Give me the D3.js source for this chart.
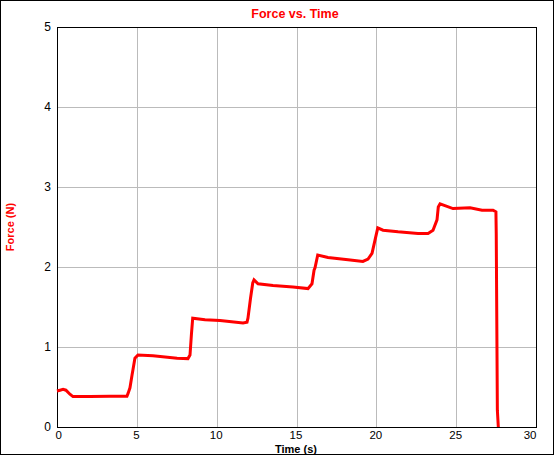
<!DOCTYPE html>
<html lang="en">
  <head>
    <meta charset="UTF-8" />
    <script src="https://d3js.org/d3.v7.min.js"></script>
    <title>Force vs. Time</title>
    <style>
      body { margin: 0; background: #fff; }
      text { font-family: Arial, "Liberation Sans", sans-serif; }
    </style>
  </head>
  <body>
    <script>
      // time (s) and force (N)
      const time = [
        0.0, 0.19, 0.38, 0.56, 0.81, 1.0, 2.07, 3.32, 4.38, 4.45, 4.57, 4.7,
        4.76, 4.88, 5.07, 6.01, 7.52, 8.2, 8.33, 8.42, 8.5, 9.27, 10.21, 11.65,
        11.9, 11.96, 12.12, 12.26, 12.34, 12.59, 13.53, 14.78, 15.72, 15.97,
        16.1, 16.16, 16.33, 16.97, 18.23, 19.16, 19.48, 19.73, 19.92, 20.09,
        20.42, 21.36, 22.61, 23.24, 23.55, 23.8, 23.88, 23.99, 24.8, 25.87,
        26.62, 27.31, 27.49, 27.51, 27.58, 27.64
      ];
      const force = [
        0.45, 0.46, 0.47, 0.46, 0.41, 0.38, 0.38, 0.385, 0.385, 0.42, 0.49,
        0.65, 0.72, 0.86, 0.9, 0.89, 0.86, 0.855, 0.9, 1.16, 1.36, 1.34, 1.33,
        1.3, 1.31, 1.36, 1.61, 1.8, 1.84, 1.79, 1.77, 1.75, 1.73, 1.79, 1.96,
        1.99, 2.15, 2.12, 2.09, 2.07, 2.1, 2.17, 2.34, 2.49, 2.46, 2.44, 2.42,
        2.42, 2.46, 2.59, 2.75, 2.79, 2.73, 2.74, 2.71, 2.71, 2.69, 2.42, 0.21,
        0.0
      ];
      const xTicks = [0, 5, 10, 15, 20, 25, 30];
      const yTicks = [0, 1, 2, 3, 4, 5];

      const W = 554, H = 455;
      const plotL = 57, plotR = 536, plotT = 27, plotB = 427;

      let svg = d3
        .select("body")
        .append("svg")
        .attr("width", W)
        .attr("height", H);

      // outer frame
      svg.append("rect")
        .attr("x", 0.5).attr("y", 0.5)
        .attr("width", W - 1).attr("height", H - 1)
        .attr("fill", "#fff")
        .attr("stroke", "#000");

      let x = d3.scaleLinear().domain([0, 30]).range([plotL, plotR]);
      let y = d3.scaleLinear().domain([0, 5]).range([plotB, plotT]);

      // grid
      let grid = svg.append("g").attr("shape-rendering", "crispEdges");
      grid.selectAll("line.gx")
        .data(xTicks.slice(1, -1))
        .enter()
        .append("line")
        .attr("x1", d => Math.round(x(d)) + 0.5)
        .attr("x2", d => Math.round(x(d)) + 0.5)
        .attr("y1", plotT)
        .attr("y2", plotB)
        .attr("stroke", "#bbb");
      grid.selectAll("line.gy")
        .data(yTicks.slice(1, -1))
        .enter()
        .append("line")
        .attr("x1", plotL)
        .attr("x2", plotR)
        .attr("y1", d => Math.round(y(d)) + 0.5)
        .attr("y2", d => Math.round(y(d)) + 0.5)
        .attr("stroke", "#bbb");

      // axes with labels
      let xAxis = svg.append("g")
        .attr("transform", `translate(0,${plotB})`)
        .call(d3.axisBottom(x).tickValues(xTicks).tickFormat(d3.format("d"))
          .tickSize(0).tickPadding(4));
      xAxis.select(".domain").remove();
      xAxis.selectAll("text")
        .attr("font-size", 11.5)
        .attr("font-family", "Arial, 'Liberation Sans', sans-serif")
        .attr("fill", "#000")
        .attr("text-anchor", (d) => d === 0 ? "start" : d === 30 ? "end" : "middle")
        .attr("dx", (d) => d === 0 ? -2 : d === 30 ? 0 : -1);

      let yAxis = svg.append("g")
        .attr("transform", `translate(${plotL},0)`)
        .call(d3.axisLeft(y).tickValues(yTicks).tickFormat(d3.format("d"))
          .tickSize(0).tickPadding(6));
      yAxis.select(".domain").remove();
      yAxis.selectAll("text")
        .attr("font-size", 12)
        .attr("font-family", "Arial, 'Liberation Sans', sans-serif")
        .attr("fill", "#000");

      // plot frame
      svg.append("rect")
        .attr("x", plotL + 0.5).attr("y", plotT + 0.5)
        .attr("width", plotR - plotL).attr("height", plotB - plotT)
        .attr("fill", "none")
        .attr("stroke", "#000")
        .attr("shape-rendering", "crispEdges");

      // data line
      let line = d3.line()
        .x((d, i) => x(time[i]))
        .y((d) => y(d));
      svg.append("path")
        .datum(force)
        .attr("d", line)
        .attr("fill", "none")
        .attr("stroke", "#ff0000")
        .attr("stroke-width", 3)
        .attr("stroke-linejoin", "miter");

      // titles
      svg.append("text")
        .attr("x", 295)
        .attr("y", 18)
        .attr("text-anchor", "middle")
        .attr("font-size", 12.5)
        .attr("font-weight", "bold")
        .attr("fill", "#ff0000")
        .text("Force vs. Time");

      svg.append("text")
        .attr("x", 296)
        .attr("y", 453)
        .attr("text-anchor", "middle")
        .attr("font-size", 11)
        .attr("font-weight", "bold")
        .attr("fill", "#000")
        .text("Time (s)");

      svg.append("text")
        .attr("transform", "translate(14,227) rotate(-90)")
        .attr("text-anchor", "middle")
        .attr("font-size", 11)
        .attr("font-weight", "bold")
        .attr("fill", "#ff0000")
        .text("Force (N)");
    </script>
  </body>
</html>
